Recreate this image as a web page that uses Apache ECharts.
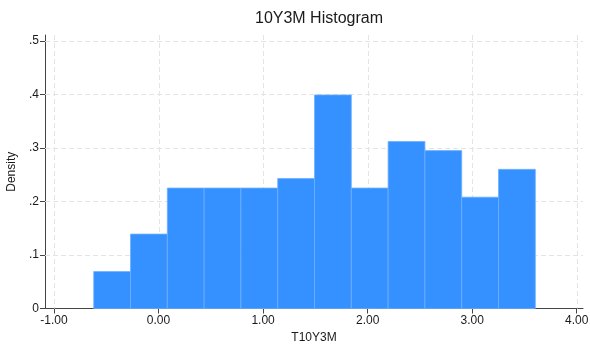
<!DOCTYPE html>
<html>
<head>
<meta charset="utf-8">
<script src="https://cdn.jsdelivr.net/npm/echarts@6/dist/echarts.min.js"></script>
<style>
  html, body { margin: 0; padding: 0; background: #fff; }
  #chart { width: 590px; height: 347px; }
</style>
</head>
<body>
<div id="chart"></div>
<script>
// Histogram of T10Y3M: 12 equal-width bins
const binStart = -0.62;
const binWidth = 0.352;
const densities = [0.069, 0.139, 0.225, 0.225, 0.225, 0.243, 0.399, 0.225, 0.312, 0.295, 0.208, 0.260];

// Axis ticks and ranges
const xTicks = [-1, 0, 1, 2, 3, 4];
const yTicks = [0, 0.1, 0.2, 0.3, 0.4, 0.5];
const xRange = [-1.086, 4.06];
const yRange = [0, 0.511];

const bins = densities.map((d, i) => [binStart + i * binWidth, binStart + (i + 1) * binWidth, d]);

const font = 'Liberation Sans, Arial, Helvetica, sans-serif';
const gridStroke = { stroke: '#e4e4e4', lineWidth: 1, lineDash: [5, 3] };

// One dashed line per tick, spanning the plot area
function gridLineItem(dir) {
  return (params, api) => {
    const cs = params.coordSys;
    const v = api.value(0);
    let shape;
    if (dir === 'x') {
      const x = Math.round(api.coord([v, 0])[0]) + 0.5;
      shape = { x1: x, y1: cs.y, x2: x, y2: cs.y + cs.height };
    } else {
      const y = Math.round(api.coord([0, v])[1]) + 0.5;
      shape = { x1: cs.x, y1: y, x2: cs.x + cs.width, y2: y };
    }
    return { type: 'line', shape, style: gridStroke, silent: true };
  };
}

const chart = echarts.init(document.getElementById('chart'), null, { renderer: 'canvas' });
chart.setOption({
  animation: false,
  backgroundColor: '#ffffff',
  title: {
    text: '10Y3M Histogram',
    left: 314, top: 6, textAlign: 'center',
    textStyle: { fontFamily: font, fontSize: 16, fontWeight: 'normal', color: '#1a1a1a' }
  },
  grid: { left: 45, right: 7, top: 35, bottom: 38.5, containLabel: false, outerBoundsMode: 'none' },
  xAxis: {
    type: 'value',
    min: xRange[0], max: xRange[1],
    name: 'T10Y3M', nameLocation: 'middle', nameGap: 23,
    nameTextStyle: { fontFamily: font, fontSize: 12, color: '#1a1a1a' },
    axisLine: { show: true, onZero: false, lineStyle: { color: '#444', width: 1 } },
    axisTick: { show: true, length: 5, lineStyle: { color: '#444' }, customValues: xTicks },
    axisLabel: {
      fontFamily: font, fontSize: 12, color: '#1a1a1a', margin: 6,
      customValues: xTicks,
      formatter: v => v.toFixed(2)
    },
    splitLine: { show: false }
  },
  yAxis: {
    type: 'value',
    min: yRange[0], max: yRange[1],
    name: 'Density', nameLocation: 'middle', nameGap: 27, nameRotate: 90,
    nameTextStyle: { fontFamily: font, fontSize: 12, color: '#1a1a1a' },
    axisLine: { show: true, onZero: false, lineStyle: { color: '#444', width: 1 } },
    axisTick: { show: true, length: 5, lineStyle: { color: '#444' }, customValues: yTicks },
    axisLabel: {
      fontFamily: font, fontSize: 12, color: '#1a1a1a', margin: 6,
      customValues: yTicks,
      formatter: v => (v === 0 ? '0' : (Math.round(v * 10) / 10).toString().replace(/^0\./, '.'))
    },
    splitLine: { show: false }
  },
  series: [
    {
      type: 'custom', z: 1, silent: true,
      data: xTicks.map(v => [v]),
      encode: { x: 0 },
      renderItem: gridLineItem('x')
    },
    {
      type: 'custom', z: 1, silent: true,
      data: yTicks.filter(v => v > 0).map(v => [0, v]),
      encode: { y: 1 },
      renderItem: (params, api) => gridLineItem('y')(params, { value: i => api.value(1), coord: api.coord })
    },
    {
      type: 'custom',
      z: 3,
      data: bins,
      encode: { x: [0, 1], y: 2 },
      renderItem: (params, api) => {
        const p0 = api.coord([api.value(0), api.value(2)]);
        const p1 = api.coord([api.value(1), 0]);
        return {
          type: 'rect',
          shape: { x: p0[0], y: p0[1], width: p1[0] - p0[0], height: p1[1] - p0[1] },
          style: { fill: '#3491ff', stroke: '#6fb0ff', lineWidth: 0.8 }
        };
      }
    }
  ]
});
</script>
</body>
</html>
